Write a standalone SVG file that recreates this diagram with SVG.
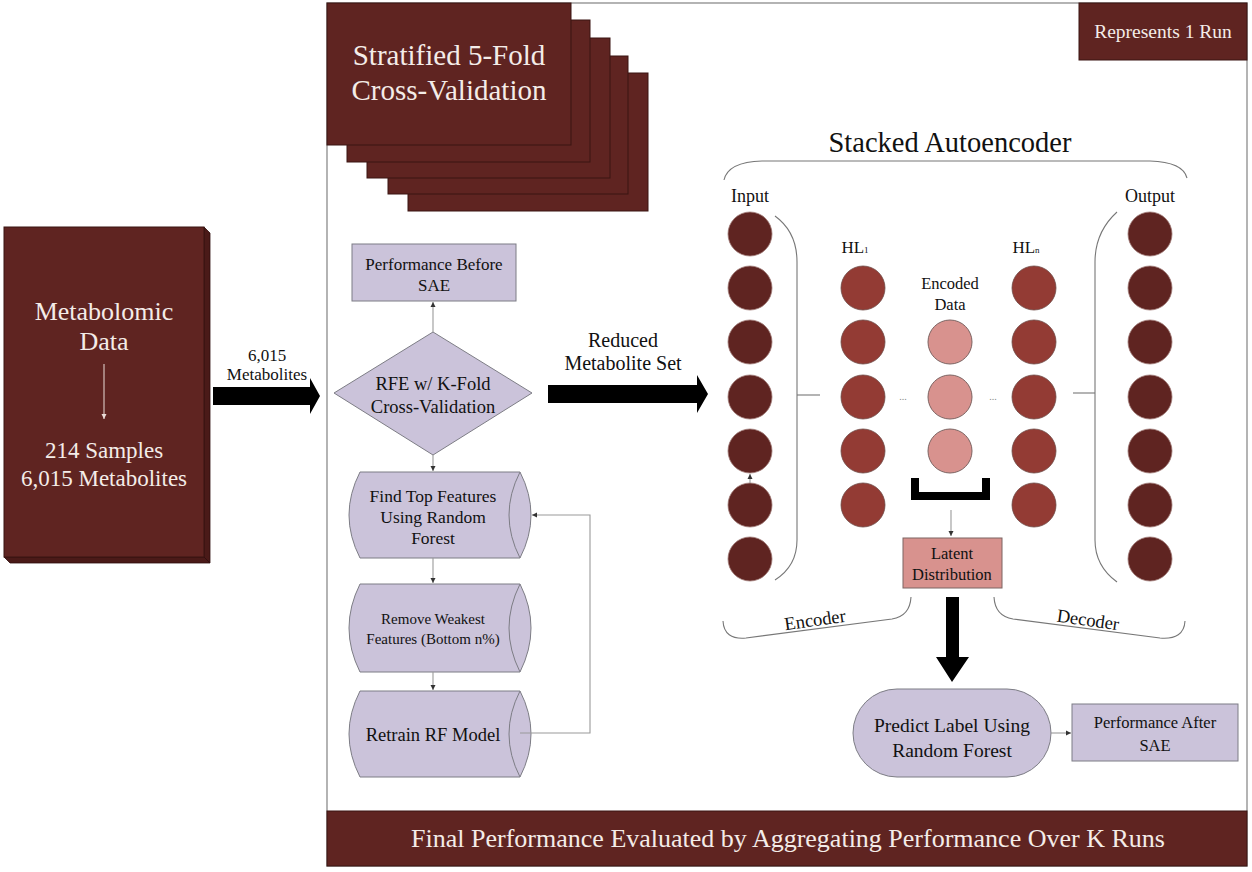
<svg xmlns="http://www.w3.org/2000/svg" width="1252" height="872" viewBox="0 0 1252 872">
<style>
text{font-family:"Liberation Serif","Times New Roman",serif;}
.lt{fill:#F4ECE8;text-anchor:middle;}
.dk{fill:#111;text-anchor:middle;}
.maroon{fill:#5F2421;stroke:#3a1412;stroke-width:1;}
.lav{fill:#CBC3DA;stroke:#7d7d85;stroke-width:1;}
.c0{fill:#5F2421;stroke:#a07a76;stroke-width:0.8;}
.c1{fill:#933B34;stroke:#6e4a46;stroke-width:0.8;}
.c2{fill:#D8928E;stroke:#7d6462;stroke-width:1;}
.con{fill:none;stroke:#9a9a9a;stroke-width:1.1;}
.brk{fill:none;stroke:#777;stroke-width:1.1;}
.big{fill:#000;}
.dots{fill:#888;text-anchor:middle;}
</style>
<defs>
<marker id="ah" markerWidth="6" markerHeight="6" refX="5" refY="3" orient="auto" markerUnits="userSpaceOnUse">
<path d="M0,0.5 L5,3 L0,5.5 Z" fill="#333"/>
</marker>
<marker id="ahl" markerWidth="6" markerHeight="6" refX="5" refY="3" orient="auto" markerUnits="userSpaceOnUse">
<path d="M0,0.5 L5,3 L0,5.5 Z" fill="#eadcd8"/>
</marker>
</defs>
<rect width="1252" height="872" fill="#fff"/>

<g id="run-frame">
<rect x="327" y="3" width="920" height="863" fill="none" stroke="#8c8c8c" stroke-width="1.3"/>
</g>

<g id="represents-run">
<rect x="1079" y="3" width="168" height="57" class="maroon"/>
<text x="1163" y="38" class="lt" font-size="19.5">Represents 1 Run</text>
</g>

<g id="metabolomic-data">
<polygon points="204,227 210,233 210,563 204,557" fill="#4a1a18" stroke="#2d0d0c" stroke-width="0.8"/>
<polygon points="4,557 204,557 210,563 10,563" fill="#4a1a18" stroke="#2d0d0c" stroke-width="0.8"/>
<rect x="4" y="227" width="200" height="330" class="maroon"/>
<text x="104" y="320" class="lt" font-size="26">Metabolomic</text>
<text x="104" y="350" class="lt" font-size="26">Data</text>
<line x1="104" y1="364" x2="104" y2="419" stroke="#eadcd8" stroke-width="1" marker-end="url(#ahl)"/>
<text x="104" y="458" class="lt" font-size="23">214 Samples</text>
<text x="104" y="486" class="lt" font-size="23">6,015 Metabolites</text>
</g>

<g id="arrow-metabolites">
<polygon class="big" points="213,387 310,387 310,378 320,396 310,414 310,405 213,405"/>
<text x="267" y="361" class="dk" font-size="17">6,015</text>
<text x="267" y="380" class="dk" font-size="17">Metabolites</text>
</g>

<g id="stratified-cv">
<rect x="408" y="73" width="240" height="138" class="maroon"/>
<rect x="388" y="56" width="240" height="138" class="maroon"/>
<rect x="367" y="38" width="243" height="140" class="maroon"/>
<rect x="347" y="20" width="243" height="142" class="maroon"/>
<rect x="327" y="3" width="244" height="142" class="maroon"/>
<text x="449" y="65" class="lt" font-size="29">Stratified 5-Fold</text>
<text x="449" y="100" class="lt" font-size="29">Cross-Validation</text>
</g>

<g id="perf-before">
<rect x="352" y="244" width="164" height="57" class="lav"/>
<text x="434" y="270" class="dk" font-size="17">Performance Before</text>
<text x="434" y="291" class="dk" font-size="17">SAE</text>
</g>

<g id="rfe">
<polygon points="433,332 532,393 433,455 334,393" class="lav"/>
<text x="433" y="390" class="dk" font-size="18.5">RFE w/  K-Fold</text>
<text x="433" y="413" class="dk" font-size="18.5">Cross-Validation</text>
</g>

<g id="find-top">
<path d="M360,472 L520,472 Q542,515 520,558 L360,558 Q338,515 360,472 Z" class="lav"/>
<path d="M520,472 Q498,515 520,558" class="lav" fill="none"/>
<text x="433" y="502" class="dk" font-size="17.5">Find Top Features</text>
<text x="433" y="523" class="dk" font-size="17.5">Using Random</text>
<text x="433" y="544" class="dk" font-size="17.5">Forest</text>
</g>

<g id="remove-weakest">
<path d="M360,584 L520,584 Q542,628 520,672 L360,672 Q338,628 360,584 Z" class="lav"/>
<path d="M520,584 Q498,628 520,672" class="lav" fill="none"/>
<text x="433" y="624" class="dk" font-size="15">Remove Weakest</text>
<text x="433" y="644" class="dk" font-size="15">Features (Bottom n%)</text>
</g>

<g id="retrain">
<path d="M360,691 L520,691 Q542,734 520,777 L360,777 Q338,734 360,691 Z" class="lav"/>
<path d="M520,691 Q498,734 520,777" class="lav" fill="none"/>
<text x="433" y="741" class="dk" font-size="18.5">Retrain RF Model</text>
</g>

<g id="arrow-reduced">
<polygon class="big" points="548,385 697,385 697,375 708,394 697,413 697,403 548,403"/>
<text x="623" y="347" class="dk" font-size="20">Reduced</text>
<text x="623" y="370" class="dk" font-size="20">Metabolite Set</text>
</g>

<g id="sae-title">
<text x="950" y="152" class="dk" font-size="28.5">Stacked Autoencoder</text>
<path d="M724,180 Q728,162 762,161 L1150,161 Q1183,162 1187,178" class="brk"/>
</g>

<g id="input-layer">
<text x="750" y="202" class="dk" font-size="18">Input</text>
<circle cx="750" cy="234" r="22" class="c0"/>
<circle cx="750" cy="288" r="22" class="c0"/>
<circle cx="750" cy="342" r="22" class="c0"/>
<circle cx="750" cy="397" r="22" class="c0"/>
<circle cx="750" cy="451" r="22" class="c0"/>
<circle cx="750" cy="505" r="22" class="c0"/>
<circle cx="750" cy="559" r="22" class="c0"/>
<path d="M775,216 Q797,232 797,262 L797,540 Q797,566 775,580" class="brk"/>
</g>

<g id="hidden-layer-1">
<text x="855" y="253" class="dk" font-size="17">HL<tspan font-size="9">1</tspan></text>
<circle cx="863" cy="288" r="22" class="c1"/>
<circle cx="863" cy="342" r="22" class="c1"/>
<circle cx="863" cy="397" r="22" class="c1"/>
<circle cx="863" cy="451" r="22" class="c1"/>
<circle cx="863" cy="505" r="22" class="c1"/>
</g>

<g id="encoded-data">
<text x="950" y="289" class="dk" font-size="16.5">Encoded</text>
<text x="950" y="310" class="dk" font-size="16.5">Data</text>
<circle cx="950" cy="342" r="22" class="c2"/>
<circle cx="950" cy="397" r="22" class="c2"/>
<circle cx="950" cy="451" r="22" class="c2"/>
<text x="903" y="400" class="dots" font-size="10">...</text>
<text x="993" y="400" class="dots" font-size="10">...</text>
<path d="M915,478 L915,496 L986,496 L986,478" fill="none" stroke="#000" stroke-width="8"/>
</g>

<g id="hidden-layer-n">
<text x="1026" y="253" class="dk" font-size="17">HL<tspan font-size="9">n</tspan></text>
<circle cx="1034" cy="288" r="22" class="c1"/>
<circle cx="1034" cy="342" r="22" class="c1"/>
<circle cx="1034" cy="397" r="22" class="c1"/>
<circle cx="1034" cy="451" r="22" class="c1"/>
<circle cx="1034" cy="505" r="22" class="c1"/>
</g>

<g id="output-layer">
<text x="1150" y="202" class="dk" font-size="18">Output</text>
<circle cx="1150" cy="234" r="22" class="c0"/>
<circle cx="1150" cy="288" r="22" class="c0"/>
<circle cx="1150" cy="342" r="22" class="c0"/>
<circle cx="1150" cy="397" r="22" class="c0"/>
<circle cx="1150" cy="451" r="22" class="c0"/>
<circle cx="1150" cy="505" r="22" class="c0"/>
<circle cx="1150" cy="559" r="22" class="c0"/>
<path d="M1117,212 Q1095,232 1095,262 L1095,540 Q1095,566 1117,582" class="brk"/>
</g>

<g id="latent">
<rect x="903" y="538" width="99" height="50" class="c2"/>
<text x="952" y="559" class="dk" font-size="16.5">Latent</text>
<text x="952" y="580" class="dk" font-size="16.5">Distribution</text>
</g>

<g id="encoder-brace">
<path d="M723,621 Q724,640 746,638 L892,619 Q910,616 911,597" class="brk"/>
<text x="815" y="626" class="dk" font-size="18.5" transform="rotate(-8 815 620)">Encoder</text>
</g>

<g id="decoder-brace">
<path d="M994,597 Q995,616 1013,619 L1160,638 Q1184,640 1185,621" class="brk"/>
<text x="1088" y="626" class="dk" font-size="18.5" transform="rotate(8 1088 620)">Decoder</text>
</g>

<g id="arrow-down">
<polygon class="big" points="946,597 959,597 959,657 969,657 952,682 936,657 946,657"/>
</g>

<g id="predict">
<rect x="853" y="689" width="198" height="88" rx="44" ry="44" class="lav"/>
<text x="952" y="732" class="dk" font-size="19.5">Predict Label Using</text>
<text x="952" y="757" class="dk" font-size="19.5">Random Forest</text>
</g>

<g id="perf-after">
<rect x="1072" y="704" width="166" height="57" class="lav"/>
<text x="1155" y="728" class="dk" font-size="16.5">Performance After</text>
<text x="1155" y="751" class="dk" font-size="16.5">SAE</text>
</g>

<g id="final-banner">
<rect x="327" y="811" width="920" height="55" class="maroon"/>
<text x="788" y="847" class="lt" font-size="26">Final Performance Evaluated by Aggregating Performance Over K Runs</text>
</g>

<g id="connectors">
<line x1="433" y1="332" x2="433" y2="302" class="con" marker-end="url(#ah)"/>
<line x1="433" y1="455" x2="433" y2="471" class="con" marker-end="url(#ah)"/>
<line x1="433" y1="558" x2="433" y2="583" class="con" marker-end="url(#ah)"/>
<line x1="433" y1="672" x2="433" y2="690" class="con" marker-end="url(#ah)"/>
<polyline points="520,733 590,733 590,515 532,515" class="con" marker-end="url(#ah)"/>
<line x1="797" y1="395" x2="820" y2="395" class="brk"/>
<line x1="1073" y1="393" x2="1095" y2="393" class="brk"/>
<line x1="750" y1="483" x2="750" y2="474" class="con" marker-end="url(#ah)"/>
<line x1="951" y1="510" x2="951" y2="536" class="con" marker-end="url(#ah)"/>
<line x1="1051" y1="733" x2="1071" y2="733" class="con" marker-end="url(#ah)"/>
</g>
</svg>
